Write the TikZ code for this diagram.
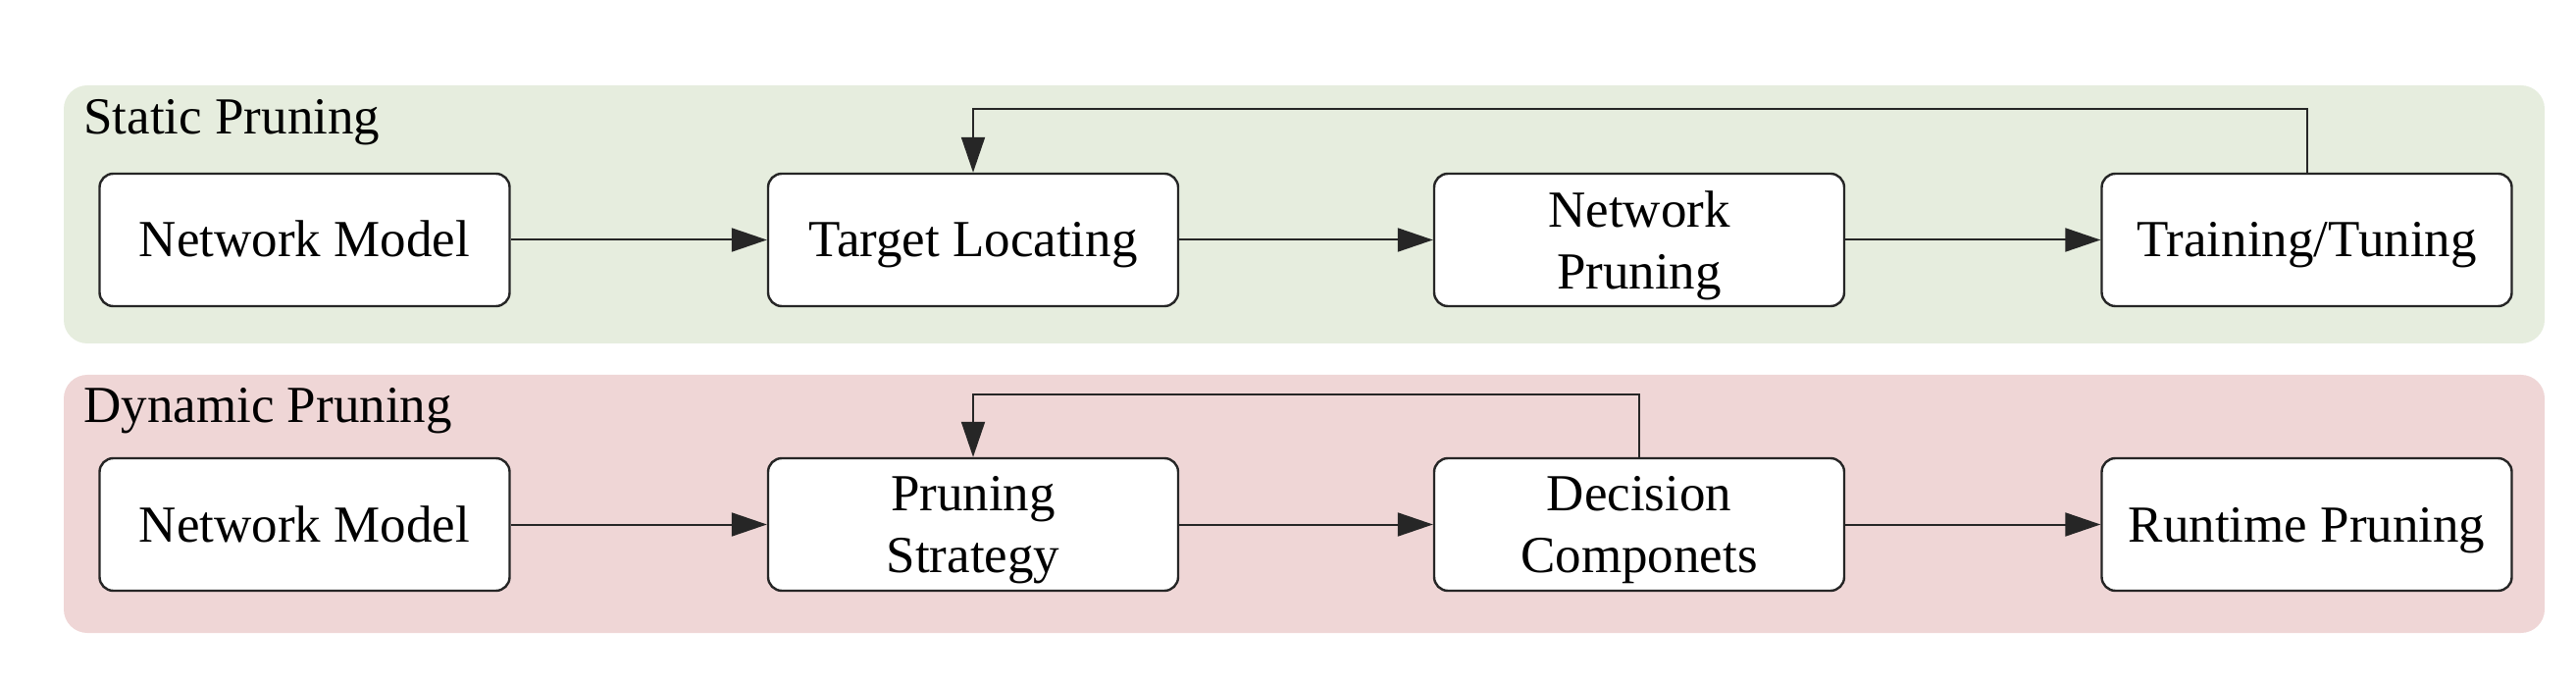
\documentclass[tikz,border=0pt]{standalone}
\usepackage{fontspec}
\setmainfont{Liberation Serif}
\usetikzlibrary{arrows.meta}
\definecolor{panelgreen}{RGB}{230,237,222}
\definecolor{panelred}{RGB}{239,214,214}
\begin{document}
\begin{tikzpicture}[x=0.5pt,y=-0.5pt,
  box/.style={draw=black!85,line width=1.2pt,fill=white,rounded corners=7pt,
    minimum width=209pt,minimum height=67.5pt,align=center,inner sep=2pt,
    text depth=0pt,font=\fontsize{26.5}{31.5}\selectfont},
  one/.style={text height=17.5pt},
  panel/.style={rounded corners=12pt},
  lbl/.style={anchor=base west,inner sep=0pt,font=\fontsize{26.5}{31.5}\selectfont},
  arr/.style={line width=1pt,draw=black!85,-{Triangle[length=18pt,width=12pt]}}]
\useasboundingbox (0,0) rectangle (2626,694);
\fill[panelgreen,panel] (65,87) rectangle (2594,350);
\fill[panelred,panel] (65,382) rectangle (2594,645);
\node[lbl] (sl) at (85,137) {Static Pruning};
\node[lbl] (dl) at (85,431) {Dynamic Pruning};
% top row
\node[box,one] (nm1) at (310.5,244.5) {Network Model};
\node[box,one] (tl) at (992,244.5) {Target Locating};
\node[box] (np) at (1671,244.5) {Network\\Pruning};
\node[box,one] (tt) at (2351.5,244.5) {Training/Tuning};
% bottom row
\node[box,one] (nm2) at (310.5,534.5) {Network Model};
\node[box] (ps) at (992,534.5) {Pruning\\Strategy};
\node[box] (dc) at (1671,534.5) {Decision\\Componets};
\node[box,one] (rp) at (2351.5,534.5) {Runtime Pruning};
\draw[arr] (nm1) -- (tl);
\draw[arr] (tl) -- (np);
\draw[arr] (np) -- (tt);
\draw[arr] (nm2) -- (ps);
\draw[arr] (ps) -- (dc);
\draw[arr] (dc) -- (rp);
\coordinate (f1) at (2351.5,111);
\coordinate (f2) at (1671,402);
\draw[arr] (tt.north) -- (f1) -| (tl.north);
\draw[arr] (dc.north) -- (f2) -| (ps.north);
\end{tikzpicture}
\end{document}
